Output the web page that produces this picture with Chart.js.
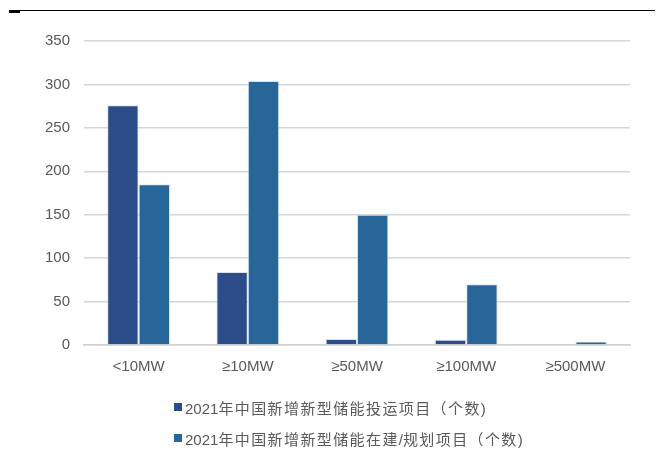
<!DOCTYPE html>
<html>
<head>
<meta charset="utf-8">
<script src="https://cdn.jsdelivr.net/npm/chart.js@4/dist/chart.umd.min.js"></script>
<style>
  html, body { margin: 0; padding: 0; background: #fff; }
  #wrap { position: relative; width: 665px; height: 452px; }
  #c { position: absolute; left: 0; top: 0; }
  .topline { position: absolute; left: 10px; top: 10px; width: 645px; height: 1px; background: #000; }
  .topmark { position: absolute; left: 9px; top: 10px; width: 11px; height: 3px; background: #000; }
  #legend { position: absolute; left: 174px; top: 396px; font-family: "Liberation Sans", "Noto Sans CJK SC", sans-serif; font-size: 15px; color: #595959; }
  .li { display: flex; align-items: center; height: 22px; margin-bottom: 9px; white-space: nowrap; }
  .sw { width: 8px; height: 8px; margin-right: 3px; flex: none; }
  .cjk { letter-spacing: 1.4px; }
</style>
</head>
<body>
<div id="wrap">
  <canvas id="c" width="665" height="452"></canvas>
  <div class="topline"></div>
  <div class="topmark"></div>
  <div id="legend"></div>
</div>
<script>
const categories = ["<10MW", "≥10MW", "≥50MW", "≥100MW", "≥500MW"];
const seriesNames = ["2021年中国新增新型储能投运项目（个数)", "2021年中国新增新型储能在建/规划项目（个数)"];
const operating = [276, 84, 7, 6, 0];
const planned = [185, 304, 150, 70, 4];
const yTicks = [0, 50, 100, 150, 200, 250, 300, 350];
const colors = ["#2C4D89", "#28669A"];

const fontFam = '"Liberation Sans", "Noto Sans CJK SC", Arial, sans-serif';

const chart = new Chart(document.getElementById("c"), {
  type: "bar",
  data: {
    labels: categories,
    datasets: [
      { label: seriesNames[0], data: operating, backgroundColor: colors[0], borderColor: "rgba(200,215,235,0.7)", borderWidth: 1, borderSkipped: "bottom" },
      { label: seriesNames[1], data: planned, backgroundColor: colors[1], borderColor: "rgba(200,215,235,0.7)", borderWidth: 1, borderSkipped: "bottom" }
    ]
  },
  options: {
    responsive: false,
    animation: false,
    devicePixelRatio: 1,
    layout: { padding: { left: 0, right: 35, top: 41, bottom: 0 } },
    plugins: { legend: { display: false }, tooltip: { enabled: false } },
    datasets: { bar: { categoryPercentage: 0.575, barPercentage: 1 } },
    scales: {
      x: {
        grid: { display: false, drawTicks: false },
        border: { display: true, color: "#d0d0d0", width: 1.5 },
        ticks: { padding: 13, color: "#595959", font: { family: fontFam, size: 15 }, maxRotation: 0 },
        afterFit: (s) => { s.height = 107; }
      },
      y: {
        min: 0, max: 350,
        afterBuildTicks: (s) => { s.ticks = yTicks.map(v => ({ value: v })); },
        grid: { color: "#d6d6d6", lineWidth: 1.5, drawTicks: false },
        border: { display: false },
        ticks: { padding: 14, color: "#595959", font: { family: fontFam, size: 15 } },
        afterFit: (s) => { s.width = 84; }
      }
    }
  }
});

const lg = document.getElementById("legend");
seriesNames.forEach((n, i) => {
  const d = document.createElement("div");
  d.className = "li";
  const sw = document.createElement("span");
  sw.className = "sw";
  sw.style.background = colors[i];
  d.appendChild(sw);
  const t = document.createElement("span");
  // split into runs: CJK (spaced) vs. latin
  const runs = n.match(/[\u3000-\u9fff\uff00-\uffef]+|[^\u3000-\u9fff\uff00-\uffef]+/g);
  runs.forEach(r => {
    const s = document.createElement("span");
    if (/[\u3000-\u9fff\uff00-\uffef]/.test(r)) s.className = "cjk";
    s.textContent = r;
    t.appendChild(s);
  });
  d.appendChild(t);
  lg.appendChild(d);
});
</script>
</body>
</html>
